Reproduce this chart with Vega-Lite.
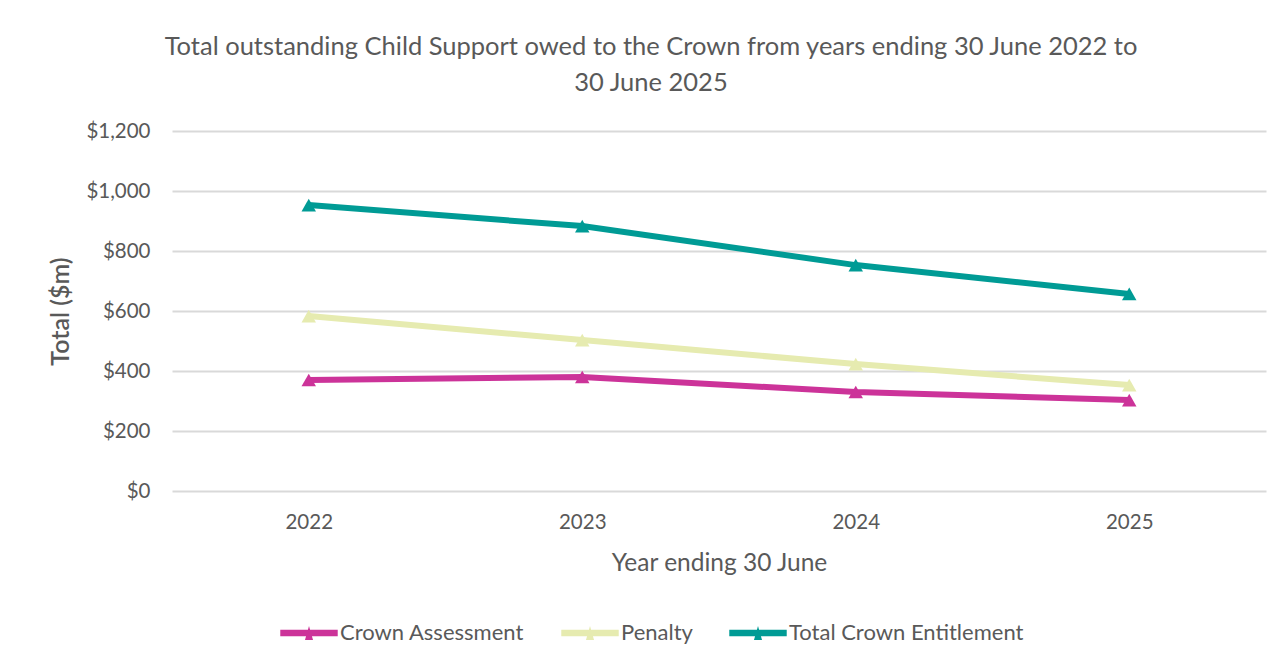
{
  "$schema": "https://vega.github.io/schema/vega-lite/v6.json",
  "width": 1094,
  "height": 360,
  "autosize": "none",
  "padding": {"left": 172, "top": 131, "right": 18, "bottom": 173},
  "background": "white",
  "title": {
    "text": ["Total outstanding Child Support owed to the Crown from years ending 30 June 2022 to", "30 June 2025"],
    "font": "Lato",
    "fontSize": 25.5,
    "fontWeight": "normal",
    "color": "#595959",
    "lineHeight": 36,
    "anchor": "middle",
    "dx": -68,
    "offset": 25
  },
  "data": {
    "values": [
      {"year": "2022", "series": "Crown Assessment", "value": 370},
      {"year": "2023", "series": "Crown Assessment", "value": 380},
      {"year": "2024", "series": "Crown Assessment", "value": 330},
      {"year": "2025", "series": "Crown Assessment", "value": 303},
      {"year": "2022", "series": "Penalty", "value": 583},
      {"year": "2023", "series": "Penalty", "value": 503},
      {"year": "2024", "series": "Penalty", "value": 423},
      {"year": "2025", "series": "Penalty", "value": 353},
      {"year": "2022", "series": "Total Crown Entitlement", "value": 953},
      {"year": "2023", "series": "Total Crown Entitlement", "value": 883},
      {"year": "2024", "series": "Total Crown Entitlement", "value": 753},
      {"year": "2025", "series": "Total Crown Entitlement", "value": 657}
    ]
  },
  "encoding": {
    "x": {
      "field": "year",
      "type": "ordinal",
      "scale": {"type": "point", "padding": 0.5},
      "axis": {
        "title": "Year ending 30 June",
        "labelAngle": 0,
        "domain": false,
        "ticks": false,
        "grid": false,
        "labelFont": "Lato",
        "labelFontSize": 20.5,
        "labelColor": "#595959",
        "labelPadding": 21,
        "titleFont": "Lato",
        "titleFontSize": 24.5,
        "titleFontWeight": "normal",
        "titleColor": "#595959",
        "titlePadding": 19
      }
    },
    "y": {
      "field": "value",
      "type": "quantitative",
      "scale": {"domain": [0, 1200], "nice": false},
      "axis": {
        "title": "Total ($m)",
        "values": [0, 200, 400, 600, 800, 1000, 1200],
        "format": "$,.0f",
        "domain": false,
        "ticks": false,
        "grid": true,
        "gridColor": "#D9D9D9",
        "gridWidth": 2,
        "labelFont": "Lato",
        "labelFontSize": 20.5,
        "labelColor": "#595959",
        "labelPadding": 22,
        "titleFont": "Lato",
        "titleFontSize": 25,
        "titleFontWeight": 600,
        "titleColor": "#595959",
        "titlePadding": 12
      }
    },
    "color": {
      "field": "series",
      "type": "nominal",
      "scale": {
        "domain": ["Crown Assessment", "Penalty", "Total Crown Entitlement"],
        "range": ["#CC3399", "#E6EBB0", "#009B95"]
      },
      "legend": {
        "title": null,
        "orient": "none",
        "direction": "horizontal",
        "legendX": 108,
        "legendY": 473,
        "symbolType": "M-1,-0.11H1V0.11H-1Z M-0.14,0.24L0,-0.24L0.14,0.24Z",
        "symbolSize": 3300,
        "symbolStrokeWidth": 0,
        "symbolOpacity": 1,
        "labelFont": "Lato",
        "labelFontSize": 22,
        "labelLimit": 400,
        "labelColor": "#595959",
        "labelOffset": 2,
        "columnPadding": 36
      }
    }
  },
  "layer": [
    {
      "mark": {"type": "line", "strokeWidth": 6},
      "encoding": {}
    },
    {
      "mark": {"type": "point", "shape": "triangle-up", "filled": true, "size": 210, "opacity": 1},
      "encoding": {}
    }
  ],
  "config": {"view": {"stroke": null}}
}
